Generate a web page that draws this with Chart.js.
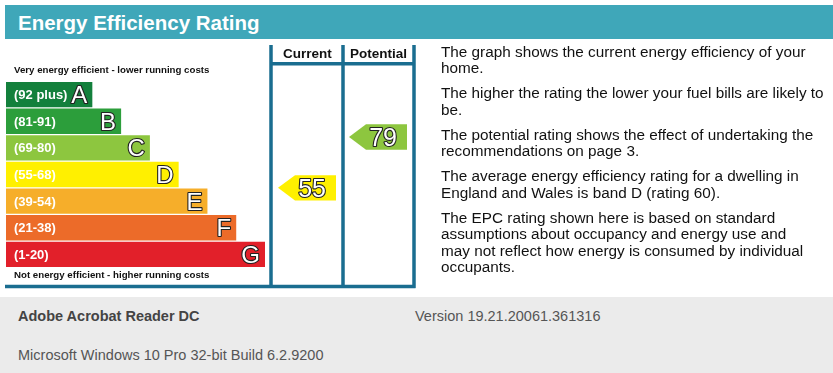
<!DOCTYPE html>
<html><head><meta charset="utf-8">
<script src="https://cdn.jsdelivr.net/npm/chart.js@4/dist/chart.umd.min.js"></script>
<style>
html,body{margin:0;padding:0;background:#fff;width:833px;height:373px;overflow:hidden;font-family:"Liberation Sans",Arial,sans-serif;}
#hdr{position:absolute;left:5px;top:5px;width:828px;height:34px;background:#3fa7b9;}
#hdr span{position:absolute;left:13px;top:7.6px;color:#fff;font-weight:bold;font-size:20.5px;line-height:20.5px;white-space:nowrap;}
#wrap{position:absolute;left:0;top:0;width:833px;height:373px;}
.cap{position:absolute;left:14px;font-weight:bold;font-size:9.7px;line-height:10px;color:#111;white-space:nowrap;}
.col{position:absolute;top:46.5px;width:71px;text-align:center;font-weight:bold;font-size:13.5px;line-height:14px;color:#111;}
#txt{position:absolute;left:441px;top:43.6px;width:392px;font-size:15.3px;line-height:16.4px;color:#111;white-space:nowrap;}
#txt p{margin:0 0 8.8px 0;}
#foot{position:absolute;left:0;top:297px;width:833px;height:76px;background:#ebebeb;}
#foot div{position:absolute;font-size:14.5px;line-height:16px;white-space:nowrap;color:#555;}
</style>
</head><body>
<div id="hdr"><span>Energy Efficiency Rating</span></div>
<div id="wrap"><canvas id="c" width="833" height="373"></canvas></div>
<div class="cap" style="top:64.5px">Very energy efficient - lower running costs</div>
<div class="cap" style="top:269.5px">Not energy efficient - higher running costs</div>
<div class="col" style="left:272px">Current</div>
<div class="col" style="left:343px">Potential</div>
<div id="txt">
<p>The graph shows the current energy efficiency of your<br>home.</p>
<p>The higher the rating the lower your fuel bills are likely to<br>be.</p>
<p>The potential rating shows the effect of undertaking the<br>recommendations on page 3.</p>
<p>The average energy efficiency rating for a dwelling in<br>England and Wales is band D (rating 60).</p>
<p>The EPC rating shown here is based on standard<br>assumptions about occupancy and energy use and<br>may not reflect how energy is consumed by individual<br>occupants.</p>
</div>
<div id="foot">
<div style="left:18px;top:11px;font-weight:bold;color:#444">Adobe Acrobat Reader DC</div>
<div style="left:415px;top:11px">Version 19.21.20061.361316</div>
<div style="left:18px;top:50px">Microsoft Windows 10 Pro 32-bit Build 6.2.9200</div>
</div>
<script>
// ---- data ----
const bands = ['A','B','C','D','E','F','G'];
const rangeLabels = ['(92 plus)','(81-91)','(69-80)','(55-68)','(39-54)','(21-38)','(1-20)'];
const rangeLow = [92,81,69,55,39,21,1];
const rangeHigh = [100,91,80,68,54,38,20];
const bandLength = [3,4,5,6,7,8,9];
const bandColors = ['#13803c','#2c9e3b','#8dc63f','#fff000','#f6ae2a','#ec6b29','#e2202a'];
const currentRating = 55;
const potentialRating = 79;

const FRAME = '#1a6d90';
const columns = [{l:272,r:343,v:currentRating},{l:343,r:414,v:potentialRating}];

const epcPlugin = {
  id:'epc',
  afterDatasetsDraw(chart){
    const ctx = chart.ctx, ys = chart.scales.y;
    const meta = chart.getDatasetMeta(0);
    ctx.save();
    // band labels
    meta.data.forEach((bar,i)=>{
      const top = bar.y;
      ctx.font = 'bold 13px "Liberation Sans", Arial, sans-serif';
      ctx.fillStyle = '#fff';
      ctx.textAlign = 'left'; ctx.textBaseline = 'alphabetic';
      ctx.fillText(rangeLabels[i], chart.chartArea.left + 8, top + 4.6);
      ctx.font = '24px "Liberation Sans", Arial, sans-serif';
      ctx.textAlign = 'right';
      ctx.lineJoin = 'round';
      ctx.strokeStyle = '#222'; ctx.lineWidth = 2.2;
      ctx.strokeText(bands[i], bar.x - 5, top + 8.6);
      ctx.fillStyle = '#fff';
      ctx.fillText(bands[i], bar.x - 5, top + 8.6);
    });
    // frame
    ctx.strokeStyle = FRAME; ctx.lineWidth = 3.5; ctx.lineCap = 'butt';
    ctx.beginPath();
    [271,343,414].forEach(x=>{ ctx.moveTo(x,45); ctx.lineTo(x,288); });
    ctx.moveTo(269.5,63.8); ctx.lineTo(415.5,63.8);
    ctx.moveTo(5,286.5); ctx.lineTo(415.5,286.5);
    ctx.stroke();
    // rating arrows
    const pitch = Math.abs(ys.getPixelForValue(1) - ys.getPixelForValue(0));
    const h = meta.data[0].height;
    columns.forEach(col=>{
      const v = col.v;
      let i = rangeLow.findIndex(lo=>v>=lo);
      const frac = (v - rangeLow[i]) / (rangeHigh[i] - rangeLow[i]);
      const yc = ys.getPixelForValue(i) + pitch/2 - frac*pitch;
      const tip = col.l + 6, body = tip + 17, right = col.r - 7;
      ctx.fillStyle = bandColors[i];
      ctx.beginPath();
      ctx.moveTo(tip, yc);
      ctx.lineTo(body, yc - h/2);
      ctx.lineTo(right, yc - h/2);
      ctx.lineTo(right, yc + h/2);
      ctx.lineTo(body, yc + h/2);
      ctx.closePath();
      ctx.fill();
      ctx.font = '25px "Liberation Sans", Arial, sans-serif';
      ctx.textAlign = 'right'; ctx.textBaseline = 'alphabetic';
      ctx.strokeStyle = '#222'; ctx.lineWidth = 2.2; ctx.lineJoin='round';
      ctx.strokeText(String(v), right - 10, yc + 9);
      ctx.fillStyle = '#fff';
      ctx.fillText(String(v), right - 10, yc + 9);
    });
    ctx.restore();
  }
};

new Chart(document.getElementById('c'), {
  type:'bar',
  data:{ labels: bands, datasets:[{ data: bandLength, backgroundColor: bandColors, borderWidth:0, barPercentage:0.95, categoryPercentage:1 }]},
  options:{
    indexAxis:'y', responsive:false, animation:false, events:[],
    layout:{ padding:{ left:6, right:568, top:81.3, bottom:105.3 } },
    plugins:{ legend:{display:false}, tooltip:{enabled:false}, title:{display:false} },
    scales:{
      x:{ display:false, min:0, max:9 },
      y:{ display:false, offset:true }
    }
  },
  plugins:[epcPlugin]
});
</script>
</body></html>
